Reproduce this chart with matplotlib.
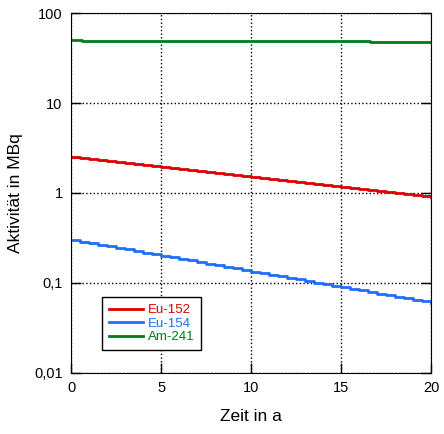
import matplotlib
matplotlib.use("Agg")
import matplotlib.pyplot as plt
import matplotlib.ticker as ticker

plt.rcParams['font.family'] = ['Liberation Sans', 'DejaVu Sans']

# time in years, step every half year
zeit = [0, 0.5, 1, 1.5, 2, 2.5, 3, 3.5, 4, 4.5, 5, 5.5, 6, 6.5, 7, 7.5, 8, 8.5, 9, 9.5,
        10, 10.5, 11, 11.5, 12, 12.5, 13, 13.5, 14, 14.5, 15, 15.5, 16, 16.5, 17, 17.5,
        18, 18.5, 19, 19.5, 20]

eu152 = [2.50, 2.44, 2.38, 2.32, 2.26, 2.20, 2.14, 2.09, 2.04, 1.99, 1.94, 1.89, 1.84,
         1.79, 1.75, 1.70, 1.66, 1.62, 1.58, 1.54, 1.50, 1.46, 1.42, 1.39, 1.35, 1.32,
         1.28, 1.25, 1.22, 1.19, 1.16, 1.13, 1.10, 1.07, 1.045, 1.02, 0.993, 0.968,
         0.943, 0.919, 0.896]

eu154 = [0.300, 0.288, 0.277, 0.266, 0.255, 0.245, 0.236, 0.226, 0.217, 0.209, 0.2005,
         0.193, 0.185, 0.178, 0.171, 0.164, 0.1575, 0.151, 0.145, 0.140, 0.134, 0.129,
         0.124, 0.119, 0.114, 0.110, 0.105, 0.101, 0.097, 0.093, 0.0896, 0.086, 0.0827,
         0.0794, 0.0763, 0.0733, 0.0704, 0.0676, 0.0649, 0.0624, 0.0599]

am241_zeit = [0, 0.6, 16.6, 20]
am241 = [50.0, 48.8, 47.7, 47.7]

fig = plt.figure(figsize=(4.44, 4.34), dpi=100)
ax = fig.add_axes([0.160, 0.1406, 0.811, 0.8294])

ax.step(zeit, eu152, where='post', color='#dc0000', lw=2, label='Eu-152')
ax.step(zeit, eu154, where='post', color='#1e6eff', lw=2, label='Eu-154')
ax.step(am241_zeit, am241, where='post', color='#007a1e', lw=2, label='Am-241')

ax.set_yscale('log')
ax.set_xlim(0, 20)
ax.set_ylim(0.01, 100)
ax.xaxis.set_major_locator(ticker.MultipleLocator(5))
ax.yaxis.set_minor_locator(ticker.NullLocator())
ax.set_yticks([0.01, 0.1, 1, 10, 100])
ax.set_yticklabels(['0,01', '0,1', '1', '10', '100'])
ax.tick_params(direction='in', length=7, width=1, labelsize=10.5, right=True, pad=6)
ax.grid(True, color='black', linestyle=':', linewidth=1)

ax.set_xlabel('Zeit in a', fontsize=12.5, labelpad=10)
ax.set_ylabel('Aktivität in MBq', fontsize=12.5, labelpad=8)

leg = ax.legend(loc='lower left', bbox_to_anchor=(0.086, 0.064), borderaxespad=0,
                fontsize=9.5, fancybox=False, framealpha=1, edgecolor='black',
                borderpad=0.5, labelspacing=0.1, handlelength=2.6, handletextpad=0.4)
leg.get_frame().set_linewidth(1)
for txt, line in zip(leg.get_texts(), leg.get_lines()):
    txt.set_color(line.get_color())

fig.savefig('out.png', dpi=100)
